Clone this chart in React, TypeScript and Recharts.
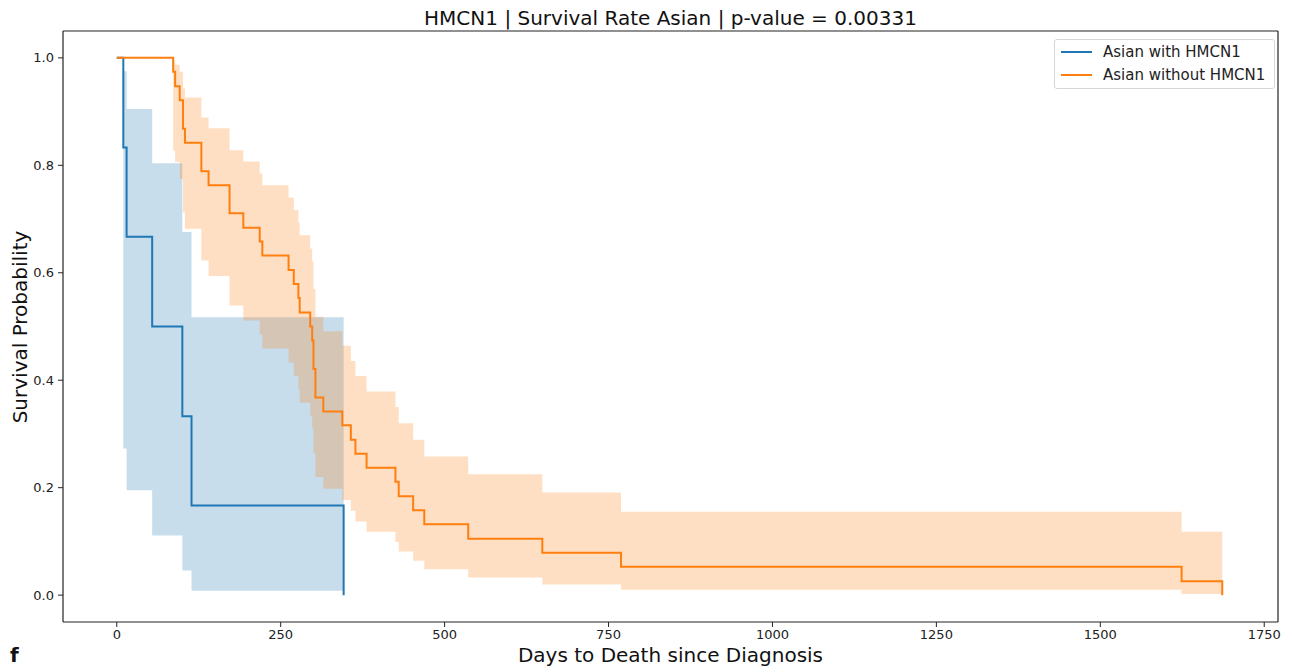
import { ComposedChart, Line, Area, XAxis, YAxis, ReferenceLine } from 'recharts'

// Kaplan-Meier: Asian with HMCN1 (n small)
const withDays = [0, 10, 15, 54, 100, 114, 346]
const withSurv = [1, 0.833, 0.667, 0.5, 0.333, 0.167, 0]
const withLower = [1, 0.273, 0.195, 0.111, 0.046, 0.008, 0.008]
const withUpper = [1, 0.975, 0.905, 0.804, 0.676, 0.517, 0.517]

// Kaplan-Meier: Asian without HMCN1
const withoutDays = [
  0, 86, 89, 96, 101, 104, 129, 140, 172, 193, 218, 222, 262, 270, 277, 279, 295,
  298, 300, 303, 315, 344, 357, 364, 381, 425, 430, 452, 469, 536, 649, 769, 1624, 1686,
]
const withoutSurv = [
  1, 0.974, 0.947, 0.921, 0.868, 0.842, 0.789, 0.763, 0.711, 0.684, 0.658, 0.632, 0.605,
  0.579, 0.553, 0.526, 0.5, 0.474, 0.421, 0.368, 0.342, 0.316, 0.289, 0.263, 0.237, 0.211,
  0.184, 0.158, 0.132, 0.105, 0.079, 0.053, 0.026, 0,
]
const withoutLower = [
  1, 0.827, 0.806, 0.775, 0.712, 0.682, 0.623, 0.594, 0.539, 0.511, 0.485, 0.459, 0.433,
  0.408, 0.383, 0.358, 0.334, 0.31, 0.264, 0.22, 0.198, 0.177, 0.157, 0.137, 0.118, 0.099,
  0.081, 0.064, 0.048, 0.033, 0.02, 0.01, 0.002, 0.002,
]
const withoutUpper = [
  1, 0.996, 0.987, 0.974, 0.943, 0.926, 0.889, 0.869, 0.828, 0.807, 0.785, 0.763, 0.74,
  0.717, 0.693, 0.67, 0.645, 0.621, 0.57, 0.518, 0.491, 0.464, 0.436, 0.408, 0.379, 0.35,
  0.32, 0.289, 0.258, 0.225, 0.191, 0.155, 0.118, 0.118,
]

const xTicks = [0, 250, 500, 750, 1000, 1250, 1500, 1750]
const yTicks = [0, 0.2, 0.4, 0.6, 0.8, 1.0]

const BLUE = '#1f77b4'
const ORANGE = '#ff7f0e'
const FRAME = '#222'
const FONT = '"DejaVu Sans", sans-serif'

const X_DOMAIN = [-82, 1771]
const Y_DOMAIN = [-0.05, 1.05]

function lineRows(days: number[], surv: number[]) {
  return days.map((d, i) => ({ day: d, surv: surv[i] }))
}

function bandRows(days: number[], lo: number[], hi: number[]) {
  return days.map((d, i) => ({ day: d, ci: [lo[i], hi[i]] }))
}

const withLine = lineRows(withDays, withSurv)
const withBand = bandRows(withDays, withLower, withUpper)
const withoutLine = lineRows(withoutDays, withoutSurv)
const withoutBand = bandRows(withoutDays, withoutLower, withoutUpper)

const tickStyle = { fontSize: 13, fill: '#222', fontFamily: FONT }

function LegendBox() {
  const rows = [
    { label: 'Asian with HMCN1', color: BLUE, y: 12 },
    { label: 'Asian without HMCN1', color: ORANGE, y: 35 },
  ]
  return (
    <div
      style={{
        position: 'absolute', left: 1054, top: 39, width: 221, height: 50,
        border: '1px solid #d6d6d6', borderRadius: 3, background: 'rgba(255,255,255,0.8)',
        boxSizing: 'border-box', fontFamily: FONT, fontSize: 15, color: '#222',
      }}
    >
      {rows.map(r => (
        <div key={r.label}>
          <div style={{ position: 'absolute', left: 6, top: r.y - 1, width: 31, height: 2, background: r.color }} />
          <div style={{ position: 'absolute', left: 48, top: r.y - 9, lineHeight: '18px', whiteSpace: 'nowrap' }}>
            {r.label}
          </div>
        </div>
      ))}
    </div>
  )
}

export default function App() {
  return (
    <div style={{ position: 'relative', width: 1292, height: 672, background: '#fff' }}>
      <style>{'body{margin:0}'}</style>
      <ComposedChart width={1292} height={672} margin={{ top: 31, right: 14, left: 0, bottom: 0 }}>
        <XAxis
          dataKey="day" type="number" domain={X_DOMAIN} allowDataOverflow ticks={xTicks}
          height={50} tickSize={5} tickMargin={3} tick={tickStyle}
          stroke={FRAME} axisLine={{ stroke: FRAME, strokeWidth: 1.2 }}
        />
        <YAxis
          type="number" domain={Y_DOMAIN} allowDataOverflow ticks={yTicks} width={63}
          tickFormatter={(v: number) => v.toFixed(1)} tickSize={5} tickMargin={4} tick={tickStyle}
          stroke={FRAME} axisLine={{ stroke: FRAME, strokeWidth: 1.2 }}
        />
        <Area
          data={withBand} dataKey="ci" type="stepAfter" stroke="none"
          fill={BLUE} fillOpacity={0.25} isAnimationActive={false} dot={false} activeDot={false}
        />
        <Line
          data={withLine} dataKey="surv" type="stepAfter" stroke={BLUE} strokeWidth={2}
          dot={false} activeDot={false} isAnimationActive={false}
        />
        <Area
          data={withoutBand} dataKey="ci" type="stepAfter" stroke="none"
          fill={ORANGE} fillOpacity={0.25} isAnimationActive={false} dot={false} activeDot={false}
        />
        <Line
          data={withoutLine} dataKey="surv" type="stepAfter" stroke={ORANGE} strokeWidth={2}
          dot={false} activeDot={false} isAnimationActive={false}
        />
        {/* top and right spines */}
        <ReferenceLine y={Y_DOMAIN[1]} stroke={FRAME} strokeWidth={1.2} ifOverflow="visible" />
        <ReferenceLine x={X_DOMAIN[1]} stroke={FRAME} strokeWidth={1.2} ifOverflow="visible" />
      </ComposedChart>

      <div style={{ position: 'absolute', left: 63, width: 1215, top: 8, textAlign: 'center', fontFamily: FONT, fontSize: 20, lineHeight: '20px', color: '#111' }}>
        HMCN1 | Survival Rate Asian | p-value = 0.00331
      </div>
      <div style={{ position: 'absolute', left: 63, width: 1215, top: 645, textAlign: 'center', fontFamily: FONT, fontSize: 20, lineHeight: '20px', color: '#111' }}>
        Days to Death since Diagnosis
      </div>
      <div
        style={{
          position: 'absolute', left: 20, top: 327, transform: 'translate(-50%, -50%) rotate(-90deg)',
          fontFamily: FONT, fontSize: 20, lineHeight: '20px', whiteSpace: 'nowrap', color: '#111',
        }}
      >
        Survival Probability
      </div>
      <div style={{ position: 'absolute', left: 10, top: 645, fontFamily: FONT, fontSize: 20, fontWeight: 'bold', lineHeight: '20px', color: '#111' }}>
        f
      </div>
      <LegendBox />
    </div>
  )
}
